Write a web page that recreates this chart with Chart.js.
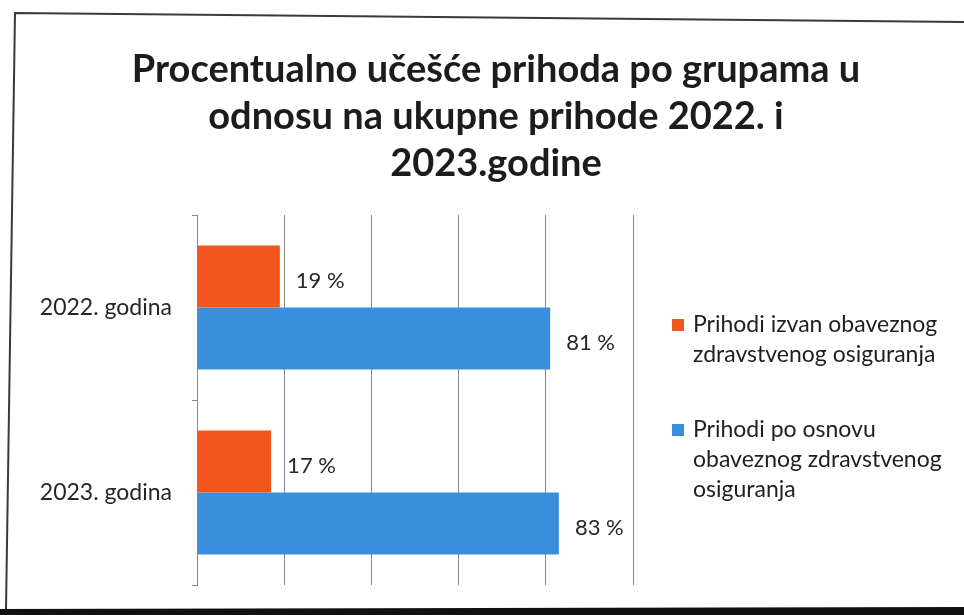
<!DOCTYPE html>
<html>
<head>
<meta charset="utf-8">
<script src="https://cdn.jsdelivr.net/npm/chart.js@4/dist/chart.umd.min.js"></script>
<style>
  html, body { margin: 0; padding: 0; background: #ffffff; }
  #wrap { position: relative; width: 964px; height: 615px; }
</style>
</head>
<body>
<div id="wrap"><canvas id="c" width="964" height="615"></canvas></div>
<script>
const titleLines = ["Procentualno učešće prihoda po grupama u", "odnosu na ukupne prihode 2022. i", "2023.godine"];
const categories = ["2022. godina", "2023. godina"];
const seriesNames = [
  ["Prihodi izvan obaveznog", "zdravstvenog osiguranja"],
  ["Prihodi po osnovu", "obaveznog zdravstvenog", "osiguranja"]
];
const outsideInsurance = [19, 17];
const fromInsurance = [81, 83];
const xTicks = [0, 20, 40, 60, 80, 100];

const ORANGE = "#F2561D";
const BLUE = "#3A8FDD";
const FONT = "Lato, 'Open Sans', sans-serif";

const decor = {
  id: "decor",
  beforeDraw(chart) {
    const ctx = chart.ctx;
    ctx.save();
    ctx.fillStyle = "#ffffff";
    ctx.fillRect(0, 0, chart.width, chart.height);
    // scanned frame
    ctx.strokeStyle = "#3a3a3a";
    ctx.lineWidth = 2;
    ctx.beginPath();
    ctx.moveTo(964, 22); ctx.lineTo(15, 13); ctx.lineTo(6, 609);
    ctx.stroke();
    ctx.fillStyle = "#111111";
    ctx.beginPath();
    ctx.moveTo(0, 609); ctx.lineTo(964, 607); ctx.lineTo(964, 615); ctx.lineTo(0, 615);
    ctx.fill();
    ctx.restore();
  },
  afterDraw(chart) {
    const ctx = chart.ctx;
    ctx.save();
    // title
    ctx.fillStyle = "#1c1c1c";
    ctx.font = "bold 38px " + FONT;
    ctx.textAlign = "center";
    ctx.textBaseline = "middle";
    titleLines.forEach((t, i) => ctx.fillText(t, 496, 70 + i * 47));
    // value labels
    ctx.font = "22px " + FONT;
    ctx.textAlign = "left";
    ctx.fillStyle = "#262626";
    chart.data.datasets.forEach((ds, di) => {
      const meta = chart.getDatasetMeta(di);
      meta.data.forEach((bar, i) => {
        ctx.fillText(ds.data[i] + " %", bar.x + 16, bar.y + 4);
      });
    });
    // legend
    const colors = [ORANGE, BLUE];
    const starts = [325, 430];
    ctx.font = "23px " + FONT;
    seriesNames.forEach((lines, i) => {
      ctx.fillStyle = colors[i];
      ctx.fillRect(672, starts[i] - 6, 12, 12);
      ctx.fillStyle = "#1f1f1f";
      lines.forEach((ln, j) => ctx.fillText(ln, 693, starts[i] + j * 30));
    });
    ctx.restore();
  }
};

new Chart(document.getElementById("c"), {
  type: "bar",
  data: {
    labels: categories,
    datasets: [
      { label: seriesNames[0].join(" "), data: outsideInsurance, backgroundColor: ORANGE },
      { label: seriesNames[1].join(" "), data: fromInsurance, backgroundColor: BLUE }
    ]
  },
  options: {
    indexAxis: "y",
    responsive: false,
    animation: false,
    layout: { padding: { left: 30, right: 331, top: 215, bottom: 30 } },
    datasets: { bar: { barPercentage: 1, categoryPercentage: 0.67 } },
    plugins: { legend: { display: false }, title: { display: false }, tooltip: { enabled: false } },
    scales: {
      x: {
        min: 0, max: 100,
        afterBuildTicks: (s) => { s.ticks = xTicks.map(v => ({ value: v })); },
        afterFit: (s) => { s.height = 0; },
        ticks: { display: false },
        grid: { color: "#8a8a8a", lineWidth: 1, drawTicks: false },
        border: { display: false }
      },
      y: {
        afterFit: (s) => { s.width = 167; s.paddingTop = 0; s.paddingBottom = 0; },
        grid: { drawOnChartArea: false, offset: true, tickLength: 5, color: "#8a8a8a" },
        border: { display: true, color: "#8a8a8a" },
        ticks: { font: { family: FONT, size: 23 }, color: "#262626", padding: 20 }
      }
    }
  },
  plugins: [decor]
});
</script>
</body>
</html>
